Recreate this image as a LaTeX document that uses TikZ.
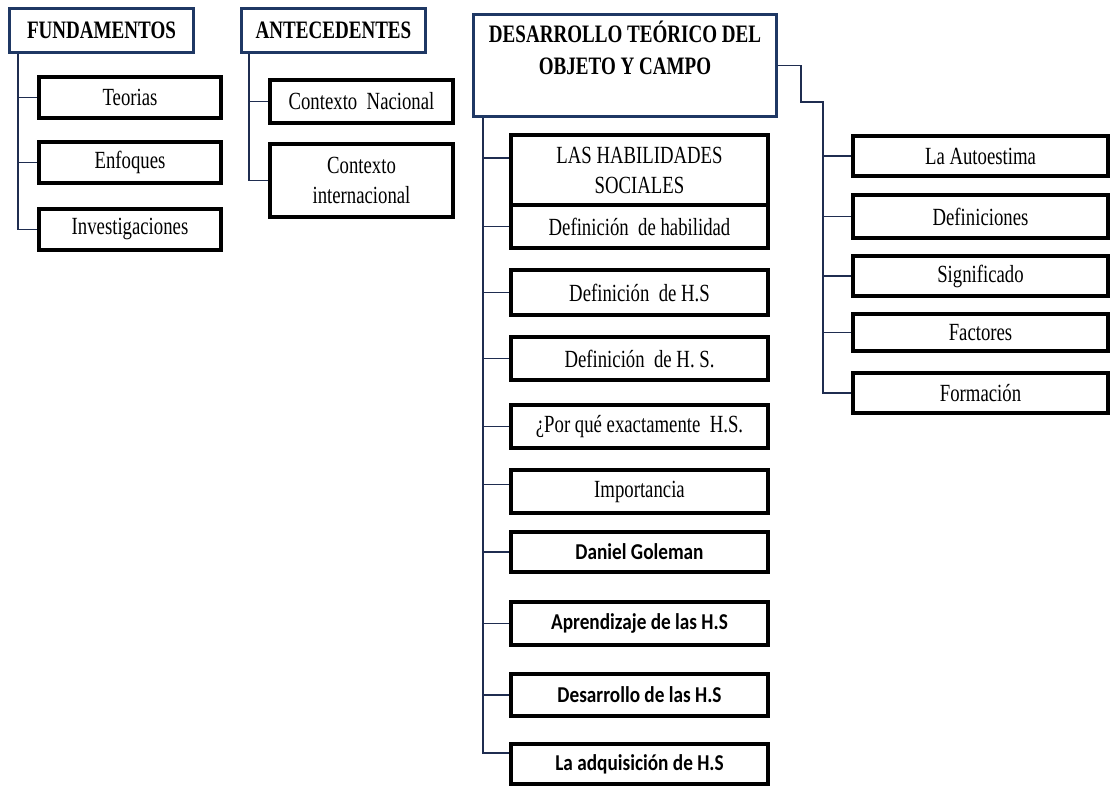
\documentclass[tikz,border=0pt]{standalone}
\usepackage{fontspec}
\usetikzlibrary{calc}
\setmainfont{Liberation Serif}[FakeStretch=0.76]
\newfontfamily\calib{Carlito}[FakeStretch=0.85]
\definecolor{navy}{HTML}{1F3864}
\definecolor{conn}{HTML}{1F2D50}
\tikzset{
  head/.style={draw=navy, line width=2.25pt, fill=white, inner sep=0pt, align=center,
    font=\bfseries\fontsize{18.8}{24}\selectfont},
  kid/.style={draw=black, line width=3pt, fill=white, inner sep=0pt, align=center,
    font=\fontsize{18.5}{22.5}\selectfont},
  kidb/.style={kid, font=\calib\bfseries\fontsize{17}{20}\selectfont},
  conn/.style={draw=conn, line width=1.1pt},
  bw/.style={minimum width={#1*0.75pt}},
  bh/.style={minimum height={#1*0.75pt}},
}
\begin{document}
\begin{tikzpicture}[x=0.75pt,y=-0.75pt]
\useasboundingbox (0,0) rectangle (1111,787);
% headers
\node[head,bw=184,bh=44] (F) at (101.5,30.5) {FUNDAMENTOS};
\node[head,bw=184,bh=44] (A) at (333.5,30.5) {ANTECEDENTES};
\node[head,bw=303,bh=102] (D) at (625,65.5) {DESARROLLO TEÓRICO DEL\\OBJETO Y CAMPO\\[-4pt]\strut};
% fundamentos children
\node[kid,bw=182,bh=41] (T) at (130,97.5) {Teorias};
\node[kid,bw=182,bh=41] (E) at (130,162.5) {Enfoques};
\node[kid,bw=182,bh=41] (I) at (130,229.5) {Investigaciones};
% antecedentes children
\node[kid,bw=183,bh=43] (CN) at (361.5,101.5) {Contexto~~Nacional};
\node[kid,bw=183,bh=73] (CI) at (361.5,180.5) {Contexto\\internacional};
% desarrollo children
\node[kid,bw=257,bh=70] (H) at (639.5,170) {LAS HABILIDADES\\SOCIALES};
\node[kid,bw=257,bh=43] (H1) at (639.5,226.5) {Definición~~de habilidad};
\node[kid,bw=257,bh=45] (H2) at (639.5,292.5) {Definición~~de H.S};
\node[kid,bw=257,bh=43] (H3) at (639.5,358.5) {Definición~~de H. S.};
\node[kid,bw=257,bh=43] (H4) at (639.5,426.5) {¿Por qué exactamente~~H.S.};
\node[kid,bw=257,bh=43] (H5) at (639.5,491.5) {Importancia};
\node[kidb,bw=257,bh=40] (H6) at (639.5,552) {Daniel Goleman};
\node[kidb,bw=257,bh=43] (H7) at (639.5,623.5) {Aprendizaje de las H.S};
\node[kidb,bw=257,bh=42] (H8) at (639.5,695) {Desarrollo de las H.S};
\node[kidb,bw=257,bh=40] (H9) at (639.5,764) {La adquisición de H.S};
% right children
\node[kid,bw=255,bh=40] (R1) at (980.5,156) {La Autoestima};
\node[kid,bw=255,bh=43] (R2) at (980.5,216.5) {Definiciones};
\node[kid,bw=255,bh=40] (R3) at (980.5,276) {Significado};
\node[kid,bw=255,bh=37] (R4) at (980.5,332.5) {Factores};
\node[kid,bw=255,bh=40] (R5) at (980.5,393) {Formación};
% connector coordinates
\coordinate (fv) at (18,0);
\coordinate (av) at (249,0);
\coordinate (dv) at (483,0);
\coordinate (e1) at (801,65.5);
\coordinate (e2) at (801,102);
\coordinate (rv) at (823,102);
\coordinate (Hw) at ($(H.west)+(0,-12)$);
\coordinate (H5w) at ($(H5.west)+(0,-7)$);
\coordinate (H9w) at ($(H9.west)+(0,-11)$);
% fundamentos
\draw[conn] (F.south -| fv) |- (I.west);
\draw[conn] (fv |- T.west) -- (T.west);
\draw[conn] (fv |- E.west) -- (E.west);
% antecedentes
\draw[conn] (A.south -| av) |- (CI.west);
\draw[conn] (av |- CN.west) -- (CN.west);
% desarrollo
\draw[conn] (D.south -| dv) |- (H9w);
\draw[conn] (dv |- Hw) -- (Hw);
\draw[conn] (dv |- H5w) -- (H5w);
\foreach \n in {H1,H2,H3,H4,H6,H7,H8}
  \draw[conn] (dv |- \n.west) -- (\n.west);
% right branch
\draw[conn] (D.east) -- (e1) -- (e2) -- (rv) |- (R5.west);
\foreach \n in {R1,R2,R3,R4}
  \draw[conn] (rv |- \n.west) -- (\n.west);
\end{tikzpicture}
\end{document}
